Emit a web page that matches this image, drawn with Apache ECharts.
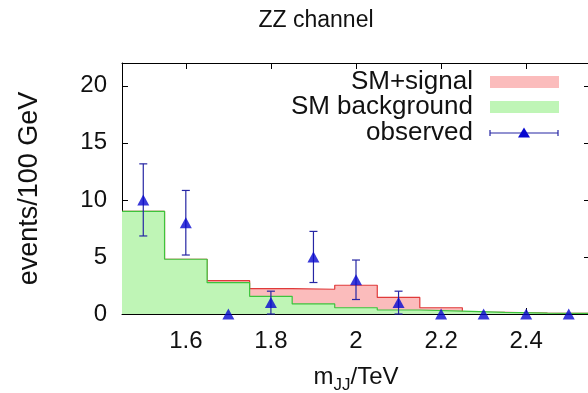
<!DOCTYPE html>
<html>
<head>
<meta charset="utf-8">
<script src="https://cdn.jsdelivr.net/npm/echarts@6/dist/echarts.min.js"></script>
<style>
  html, body { margin: 0; padding: 0; background: #fff; }
  #chart { width: 588px; height: 393px; }
</style>
</head>
<body>
<div id="chart"></div>
<script>
// Dijet invariant mass bins (TeV), 100 GeV wide
const binCenters = [1.5, 1.6, 1.7, 1.8, 1.9, 2.0, 2.1, 2.2, 2.3, 2.4, 2.5];
const binWidth = 0.1;
// Expected events per bin
const smBackground = [9.0, 4.8, 2.75, 1.55, 0.88, 0.55, 0.35, 0.25, 0.15, 0.08, 0.05];
const smPlusSignal = [9.0, 4.8, 2.92, 2.22, 2.17, 2.52, 1.45, 0.55, 0.15, 0.08, 0.05];
// Observed counts and their uncertainties
const observed = [10, 8, 0, 1, 5, 3, 1, 0, 0, 0, 0];
const observedErr = [3.16, 2.83, 0, 1.0, 2.24, 1.73, 1.0, 0, 0, 0, 0];
// Axis ticks
const xTicks = [1.6, 1.8, 2.0, 2.2, 2.4];
const yTicks = [0, 5, 10, 15, 20];

const FONT = 'Liberation Sans';
const PINK = '#fbbcbc', RED = '#e03a3a';
const GREEN = '#bff5b6', GREEN_LINE = '#3cc43c';
const BLUE = '#0808d0', BAR = '#2626a4';

// Histogram outline: one point per left bin edge plus the closing right edge
function histEdges(values) {
  const pts = binCenters.map((c, i) => [c - binWidth / 2, values[i]]);
  const last = binCenters.length - 1;
  pts.push([binCenters[last] + binWidth / 2, values[last]]);
  return pts;
}

const chart = echarts.init(document.getElementById('chart'), null, { renderer: 'canvas' });

const tickStyle = { inside: true, length: 6, lineStyle: { color: '#000', width: 1 } };
const keyFont = '26px "' + FONT + '"';

chart.setOption({
  animation: false,
  backgroundColor: '#fff',
  grid: { left: 122, top: 63, right: -2, bottom: 79, containLabel: false, outerBoundsMode: 'none' },
  xAxis: [{
    type: 'value', min: 1.45, max: 2.55,
    axisLine: { show: true, onZero: false, lineStyle: { color: '#000', width: 1 } },
    axisTick: Object.assign({ customValues: xTicks }, tickStyle),
    axisLabel: { customValues: xTicks, fontFamily: FONT, fontSize: 24, color: '#111', margin: 15 },
    splitLine: { show: false },
    name: '{m|m}{s|JJ}{m|/TeV}', nameLocation: 'middle', nameGap: 51,
    nameTextStyle: {
      rich: {
        m: { fontFamily: FONT, fontSize: 24, color: '#111', lineHeight: 28, verticalAlign: 'top' },
        s: { fontFamily: FONT, fontSize: 17, color: '#111', lineHeight: 28, verticalAlign: 'top', padding: [12, 0, 0, 0] }
      }
    }
  }, {
    type: 'value', position: 'top', min: 1.45, max: 2.55,
    axisLine: { show: true, onZero: false, lineStyle: { color: '#000', width: 1 } },
    axisTick: Object.assign({ customValues: xTicks }, tickStyle),
    axisLabel: { show: false }, splitLine: { show: false }
  }],
  yAxis: [{
    type: 'value', min: 0, max: 22,
    axisLine: { show: true, lineStyle: { color: '#000', width: 1 } },
    axisTick: Object.assign({ customValues: yTicks }, tickStyle),
    axisLabel: { customValues: yTicks, fontFamily: FONT, fontSize: 24, color: '#111', margin: 15 },
    splitLine: { show: false },
    name: 'events/100 GeV', nameLocation: 'middle', nameGap: 79, nameRotate: 90,
    nameTextStyle: { fontFamily: FONT, fontSize: 27, color: '#111' }
  }, {
    type: 'value', position: 'right', min: 0, max: 22,
    axisLine: { show: true, lineStyle: { color: '#000', width: 1 } },
    axisTick: Object.assign({ customValues: yTicks }, tickStyle),
    axisLabel: { show: false }, splitLine: { show: false }
  }],
  graphic: [
    { type: 'text', x: 316, y: 21, style: { text: 'ZZ channel', font: '23px "' + FONT + '"', fill: '#111', align: 'center', verticalAlign: 'middle' } },
    // key
    { type: 'text', x: 473, y: 82, style: { text: 'SM+signal', font: keyFont, fill: '#111', align: 'right', verticalAlign: 'middle' } },
    { type: 'rect', shape: { x: 490, y: 76, width: 69, height: 12 }, style: { fill: PINK } },
    { type: 'text', x: 473, y: 107, style: { text: 'SM background', font: keyFont, fill: '#111', align: 'right', verticalAlign: 'middle' } },
    { type: 'rect', shape: { x: 490, y: 101, width: 69, height: 12 }, style: { fill: GREEN } },
    { type: 'text', x: 473, y: 133, style: { text: 'observed', font: keyFont, fill: '#111', align: 'right', verticalAlign: 'middle' } },
    { type: 'polyline', shape: { points: [[490, 133], [558, 133]] }, style: { stroke: BAR, lineWidth: 1.2 } },
    { type: 'polyline', shape: { points: [[490, 130], [490, 136]] }, style: { stroke: BAR, lineWidth: 1.2 } },
    { type: 'polyline', shape: { points: [[558, 130], [558, 136]] }, style: { stroke: BAR, lineWidth: 1.2 } },
    { type: 'polygon', shape: { points: [[524, 127.5], [530, 137.5], [518, 137.5]] }, style: { fill: BLUE } }
  ],
  series: [
    {
      name: 'SM+signal', type: 'line', step: 'end', data: histEdges(smPlusSignal),
      symbol: 'none', z: 1,
      lineStyle: { color: RED, width: 1.2 },
      areaStyle: { color: PINK, opacity: 1 }
    },
    {
      name: 'SM background', type: 'line', step: 'end', data: histEdges(smBackground),
      symbol: 'none', z: 2,
      lineStyle: { color: GREEN_LINE, width: 1.2 },
      areaStyle: { color: GREEN, opacity: 1 }
    },
    {
      name: 'observed error', type: 'custom', z: 4,
      data: binCenters.map((c, i) => [c, observed[i], observedErr[i]]),
      renderItem: function (params, api) {
        const err = api.value(2);
        if (!err) return null;
        const x = api.value(0), y = api.value(1);
        const lo = api.coord([x, y - err]);
        const hi = api.coord([x, y + err]);
        const cap = 4;
        const st = { stroke: BAR, lineWidth: 1.2, fill: null };
        return {
          type: 'group',
          children: [
            { type: 'line', shape: { x1: lo[0], y1: lo[1], x2: hi[0], y2: hi[1] }, style: st },
            { type: 'line', shape: { x1: lo[0] - cap, y1: lo[1], x2: lo[0] + cap, y2: lo[1] }, style: st },
            { type: 'line', shape: { x1: hi[0] - cap, y1: hi[1], x2: hi[0] + cap, y2: hi[1] }, style: st }
          ]
        };
      }
    },
    {
      name: 'observed', type: 'scatter', z: 5,
      data: binCenters.map((c, i) => [c, observed[i]]),
      symbol: 'triangle', symbolSize: [12, 11],
      itemStyle: { color: BLUE }
    }
  ]
});
</script>
</body>
</html>
